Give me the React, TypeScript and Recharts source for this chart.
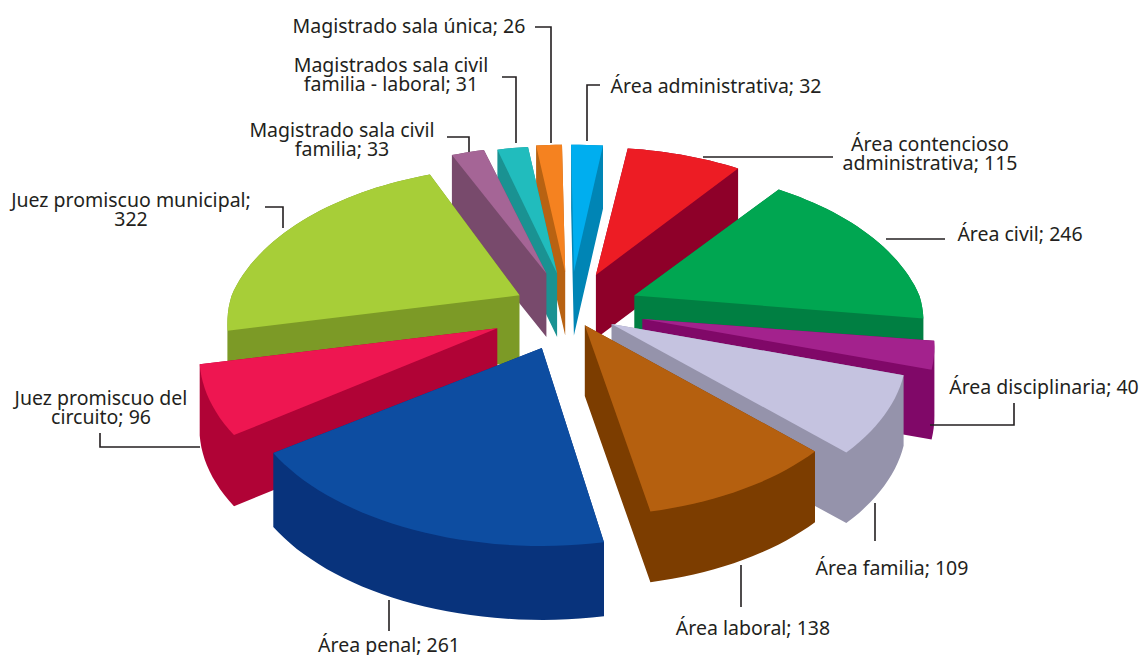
import React from 'react';
import { PieChart, Pie } from 'recharts';

const categories = ['Área administrativa','Área contencioso administrativa','Área civil','Área disciplinaria','Área familia','Área laboral','Área penal','Juez promiscuo del circuito','Juez promiscuo municipal','Magistrado sala civil familia','Magistrados sala civil familia - laboral','Magistrado sala única'];
const values = [32,115,246,40,109,138,261,96,322,33,31,26];
const topColors = ['#00AEEF','#ED1C24','#00A651','#A3228D','#C5C3E0','#B5600F','#0D4DA1','#EE1651','#A7CE38','#A56596','#21BCBD','#F58220'];
const sideColors = ['#0085B5','#8E0029','#007F42','#800868','#9593AB','#7C3D00','#08337C','#B00336','#7C9A26','#784A6C','#1A9292','#B86212'];
const explode = [0.24,0.24,0.244,0.26,0.17,0.11,0.26,0.28,0.2,0.245,0.235,0.24];
const radiusScale = [1,1,1,1.01,1.02,1,1.04,1.03,1.01,1,1,1];
const angleShift = [-0.7,0,0.6,0,0,0,1,0,0,-1.5,-0.8,-0.8];

const labelLines = [
  ['Área administrativa; 32'],['Área contencioso','administrativa; 115'],['Área civil; 246'],['Área disciplinaria; 40'],['Área familia; 109'],['Área laboral; 138'],['Área penal; 261'],['Juez promiscuo del','circuito; 96'],['Juez promiscuo municipal;','322'],['Magistrado sala civil','familia; 33'],['Magistrados sala civil','familia - laboral; 31'],['Magistrado sala única; 26'],
];
const labelAnchors: [number, number][] = [[716,93],[930,151],[1020,241],[1044,394],[892,575],[753,635],[389,652],[101,405],[131,207],[342,137],[391,72],[409,33]];
const leaders = [
  '600,85 587,85 587,141','703,157 833,157','886,239 945,239','930,425 1014,425 1014,403','875,503 875,541','741,565 741,607','389,600 389,631','100,433 100,447 200,447','265,207 283,207 283,228','447,137 469,137 469,152','502,77 516,77 516,143','535,27 551,27 551,143',
];

const rows = categories.map((name, i) => ({ name, value: values[i], idx: i }));
const total = values.reduce((a, b) => a + b, 0);
const rightRows = rows.slice(0, 6);
const leftRows = rows.slice(6).reverse();
const sum = (r: typeof rows) => r.reduce((a, b) => a + b.value, 0);

const FLATTEN = 158 / 285;
const RAD = Math.PI / 180;
type P = [number, number];

function Slice3D(props: any) {
  const { cx, cy, outerRadius, startAngle, endAngle, payload } = props;
  const idx = props.idx ?? payload?.idx ?? 0;
  const a0 = 90 - startAngle + angleShift[idx];
  const a1 = 90 - endAngle + angleShift[idx];
  const mid = ((a0 + a1) / 2) * RAD;
  const ex = explode[idx];
  const ax = cx + Math.sin(mid) * outerRadius * ex;
  const ay = cy - Math.cos(mid) * outerRadius * FLATTEN * ex;
  const R = outerRadius * radiusScale[idx];
  const pts: P[] = [[ax, ay]];
  const n = Math.max(3, Math.ceil(Math.abs(a1 - a0) / 2));
  for (let i = 0; i <= n; i++) {
    const t = (a0 + ((a1 - a0) * i) / n) * RAD;
    const v = -Math.cos(t);
    const s = v < 0 ? 1 / (1 - 0.24 * v) : 1 / (1 - 0.17 * v);
    pts.push([ax + R * Math.sin(t) * s, ay + R * FLATTEN * v * s]);
  }
  const depth = 63 + (ay - 270) * 0.14;
  const side = sideColors[idx];
  const seg = (p: P[]) => {
    let area = 0;
    p.forEach((a, i) => {
      const b = p[(i + 1) % p.length];
      area += a[0] * b[1] - b[0] * a[1];
    });
    const o = area < 0 ? [...p].reverse() : p;
    return 'M' + o.map((q) => `${q[0].toFixed(1)} ${q[1].toFixed(1)}`).join('L') + 'Z';
  };
  const lowered = pts.map((p) => [p[0], p[1] + depth] as P);
  const sideD = [seg(lowered)]
    .concat(pts.map((p, i) => {
      const j = (i + 1) % pts.length;
      return seg([p, pts[j], lowered[j], lowered[i]]);
    }))
    .join('');
  return (
    <g>
      <path d={sideD} fill={side} fillRule="nonzero" />
      <path d={seg(pts)} fill={topColors[idx]} />
    </g>
  );
}

function SliceLabel(props: any) {
  const idx = props.idx ?? props.payload?.idx ?? 0;
  const [x, y] = labelAnchors[idx];
  return (
    <g>
      <polyline points={leaders[idx]} fill="none" stroke="#231F20" strokeWidth={1.6} />
      <text x={x} y={y} textAnchor="middle" fontFamily="'Noto Sans', sans-serif" fontSize={19.5} fill="#231F20">
        {labelLines[idx].map((l, i) => (
          <tspan key={i} x={x} y={y + i * 19}>{l}</tspan>
        ))}
      </text>
    </g>
  );
}

export default function App() {
  return (
    <div style={{ position: 'absolute', left: 0, top: 0, width: 1142, height: 655, overflow: 'hidden', background: '#fff' }}>
      <PieChart width={1142} height={655} margin={{ top: 0, right: 0, bottom: 0, left: 0 }}>
        <Pie data={rightRows} dataKey="value" nameKey="name" cx={570} cy={310} innerRadius={0} outerRadius={285}
          startAngle={90} endAngle={90 - (360 * sum(rightRows)) / total} paddingAngle={0} stroke="none"
          isAnimationActive={false} shape={Slice3D} label={SliceLabel} labelLine={false} />
        <Pie data={leftRows} dataKey="value" nameKey="name" cx={570} cy={310} innerRadius={0} outerRadius={285}
          startAngle={90} endAngle={90 + (360 * sum(leftRows)) / total} paddingAngle={0} stroke="none"
          isAnimationActive={false} shape={Slice3D} label={SliceLabel} labelLine={false} />
      </PieChart>
    </div>
  );
}
